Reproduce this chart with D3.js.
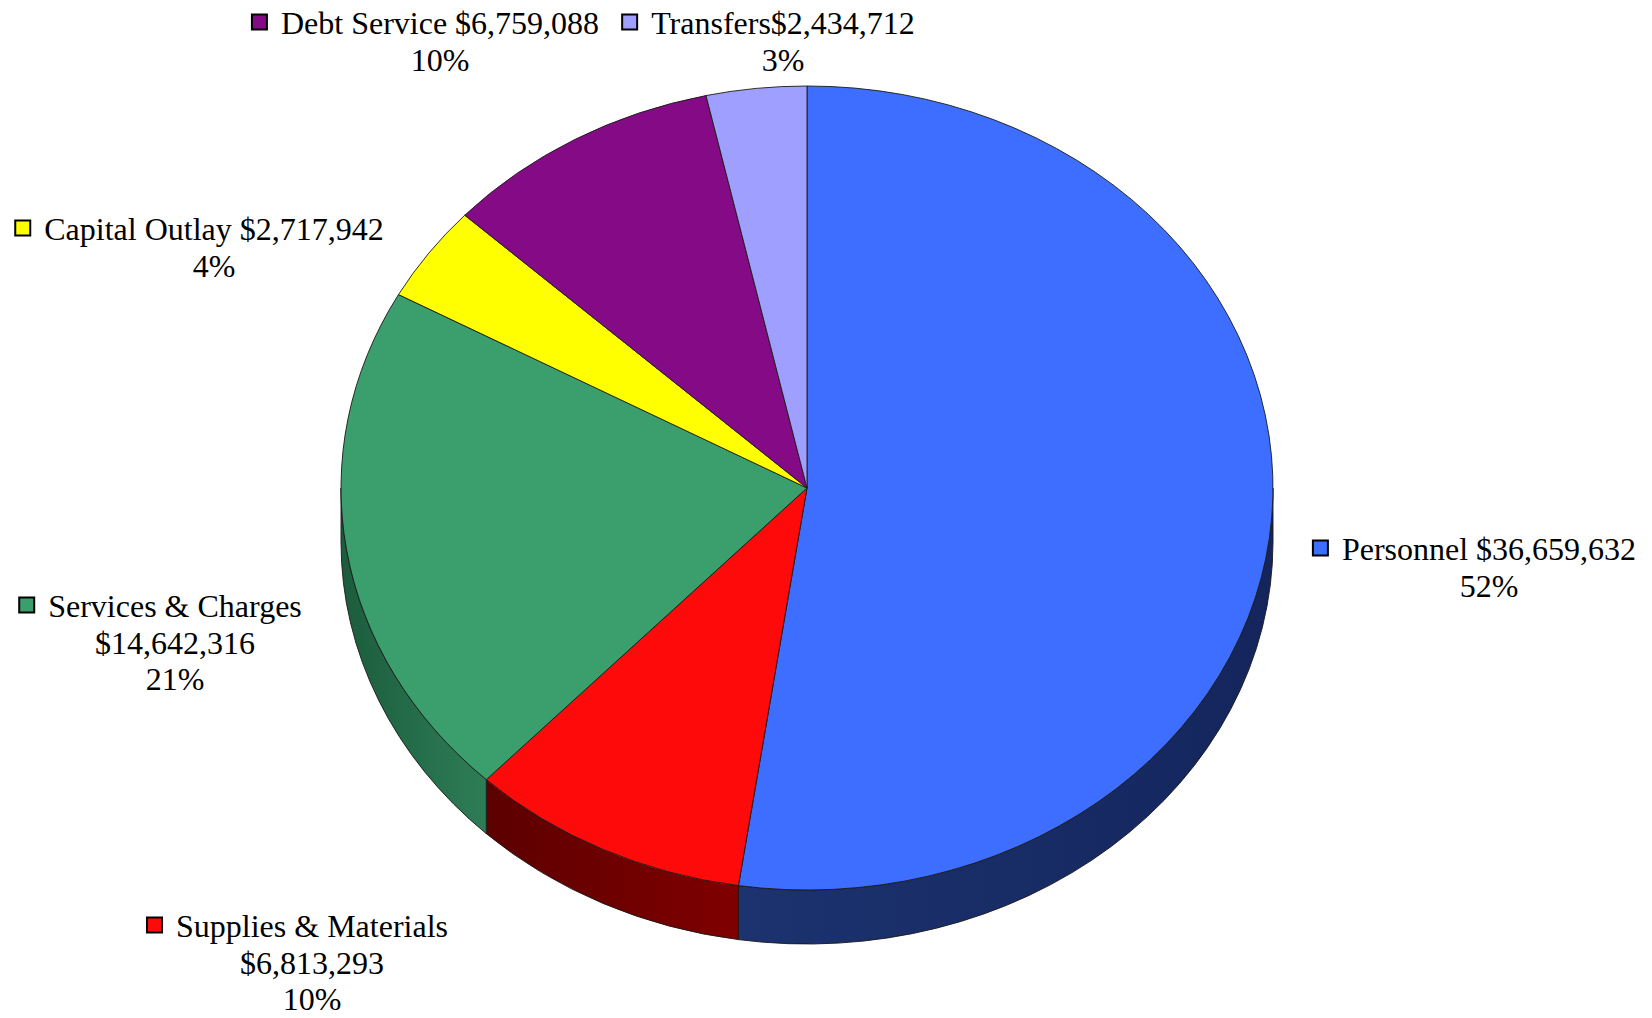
<!DOCTYPE html>
<html>
<head>
<meta charset="utf-8">
<script src="https://cdn.jsdelivr.net/npm/d3@7/dist/d3.min.js"></script>
<style>
  html, body { margin: 0; padding: 0; background: #ffffff; }
  svg { display: block; }
  text { font-family: "Liberation Serif", "Times New Roman", serif; fill: #000; }
</style>
</head>
<body>
<svg id="chart" width="1652" height="1018"></svg>
<script>
// ---- data ----
const categories = ["Personnel", "Supplies & Materials", "Services & Charges", "Capital Outlay", "Debt Service", "Transfers"];
const values = [36659632, 6813293, 14642316, 2717942, 6759088, 2434712];
const topColors = ["#3d6eff", "#ff0a0a", "#3a9e6d", "#ffff00", "#850a85", "#9f9fff"];
const sideColorsA = ["#14255c", "#800000", "#2e7d57", "#a0a000", "#500050", "#5f5f99"];
const sideColorsB = ["#1c3370", "#5c0000", "#1b5c3c", "#a0a000", "#500050", "#5f5f99"];
const nameSeparators = [" ", "\n", "\n", " ", " ", ""];

// ---- label layout (centre x of text block, first baseline) ----
const labelCenterX = [1489, 312, 175, 214, 440, 783];
const labelBaseline = [560, 937, 617, 240, 34, 34];
const lineGap = 36.5;

// ---- geometry ----
const cx = 807, cy = 488, rx = 466, ry = 402, depth = 54;

const svg = d3.select("#chart");
const defs = svg.append("defs");

const pie = d3.pie().sort(null).value(d => d).startAngle(0).endAngle(2 * Math.PI);
const arcs = pie(values);
const total = d3.sum(values);

const pt = (a, dy = 0) => [cx + rx * Math.sin(a), cy - ry * Math.cos(a) + dy];
const fmt = d3.format("$,");

// side walls (front half: angles between PI/2 and 3PI/2)
const sideG = svg.append("g");
arcs.forEach((d, i) => {
  const s = Math.max(d.startAngle, Math.PI / 2);
  const e = Math.min(d.endAngle, 3 * Math.PI / 2);
  if (e <= s) return;
  const p0 = pt(s), p1 = pt(e), q1 = pt(e, depth), q0 = pt(s, depth);
  const gid = "side" + i;
  const lg = defs.append("linearGradient").attr("id", gid)
    .attr("gradientUnits", "userSpaceOnUse")
    .attr("x1", p0[0]).attr("y1", 0).attr("x2", p1[0]).attr("y2", 0);
  lg.append("stop").attr("offset", 0).attr("stop-color", sideColorsA[i]);
  lg.append("stop").attr("offset", 1).attr("stop-color", sideColorsB[i]);
  const path = `M${p0}A${rx},${ry} 0 0 1 ${p1}L${q1}A${rx},${ry} 0 0 0 ${q0}Z`;
  sideG.append("path").attr("d", path)
    .attr("fill", `url(#${gid})`)
    .attr("stroke", "#1a1a1a").attr("stroke-width", 0.9).attr("stroke-linejoin", "round");
});

// top surfaces
const topG = svg.append("g");
arcs.forEach((d, i) => {
  const p0 = pt(d.startAngle), p1 = pt(d.endAngle);
  const large = (d.endAngle - d.startAngle) > Math.PI ? 1 : 0;
  const path = `M${cx},${cy}L${p0}A${rx},${ry} 0 ${large} 1 ${p1}Z`;
  topG.append("path").attr("d", path)
    .attr("fill", topColors[i])
    .attr("stroke", "#1a1a1a").attr("stroke-width", 0.9).attr("stroke-linejoin", "round");
});

// labels
const labelG = svg.append("g");
categories.forEach((name, i) => {
  const pct = Math.round(values[i] / total * 100) + "%";
  const lines = (name + nameSeparators[i] + fmt(values[i])).split("\n");
  lines.push(pct);
  const g = labelG.append("g");
  const texts = lines.map((ln, k) =>
    g.append("text")
      .attr("x", labelCenterX[i])
      .attr("y", labelBaseline[i] + k * lineGap)
      .attr("text-anchor", "middle")
      .attr("font-size", 32)
      .text(ln));
  const w = texts[0].node().getComputedTextLength();
  const left = labelCenterX[i] - w / 2;
  g.append("rect")
    .attr("x", left - 14 - 15)
    .attr("y", labelBaseline[i] - 12 - 7.5)
    .attr("width", 15).attr("height", 15)
    .attr("fill", topColors[i])
    .attr("stroke", "#000").attr("stroke-width", 2);
});
</script>
</body>
</html>
